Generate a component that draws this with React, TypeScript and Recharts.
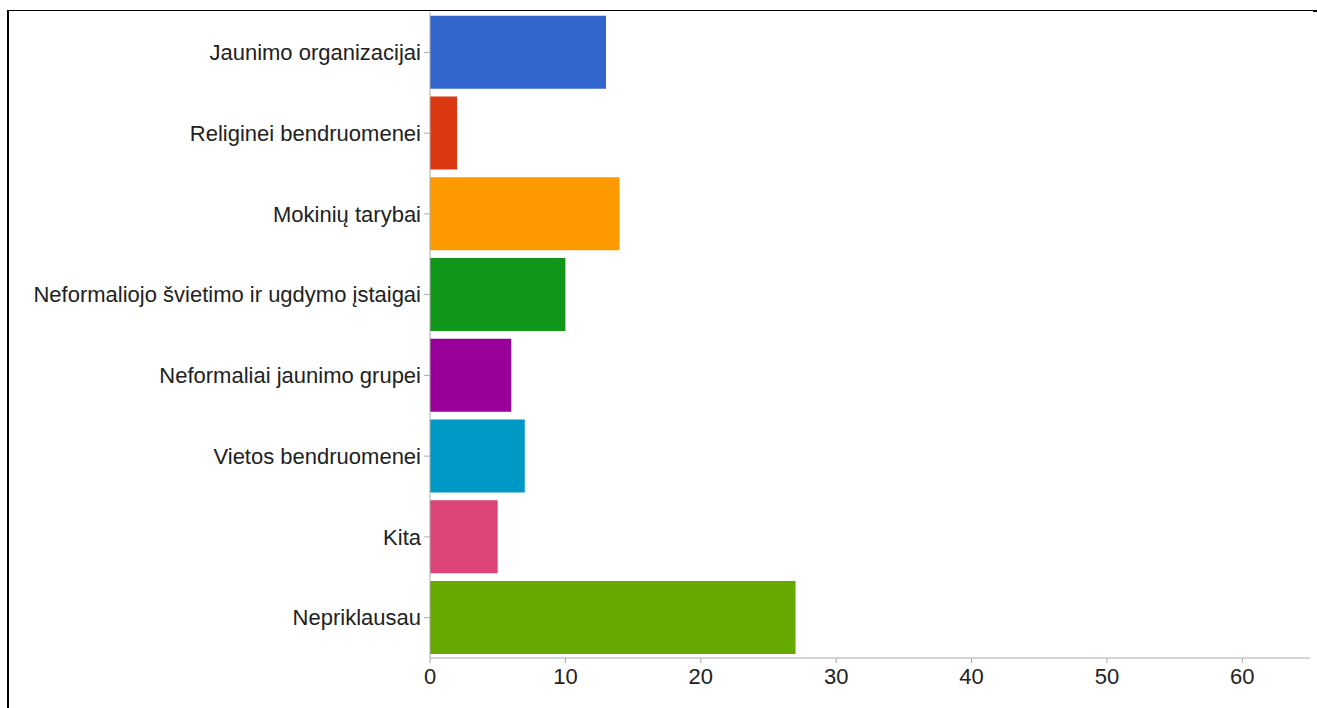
import React from 'react';
import { BarChart, Bar, XAxis, YAxis, Cell } from 'recharts';

const categories = [
  'Jaunimo organizacijai',
  'Religinei bendruomenei',
  'Mokinių tarybai',
  'Neformaliojo švietimo ir ugdymo įstaigai',
  'Neformaliai jaunimo grupei',
  'Vietos bendruomenei',
  'Kita',
  'Nepriklausau',
];
const counts = [13, 2, 14, 10, 6, 7, 5, 27];
const colors = ['#3366cc', '#dc3912', '#ff9900', '#109618', '#990099', '#0099c6', '#dd4477', '#66aa00'];
const xTicks = [0, 10, 20, 30, 40, 50, 60];

const data = categories.map((name, i) => ({ name, value: counts[i] }));

const font = { fontFamily: '"Liberation Sans", Arial, sans-serif', fontSize: 22, fill: '#222' };

const App = () => {
  return (
    <div style={{ position: 'absolute', left: 0, top: 0, width: 1317, height: 708, background: '#fff', overflow: 'hidden' }}>
      <div style={{ position: 'absolute', left: 7, top: 10, width: 1306, height: 698, borderTop: '1px solid #000', borderLeft: '2px solid #000' }} />
      <div style={{ position: 'absolute', left: 1313, top: 10, width: 4, height: 2, background: '#000' }} />
      <div style={{ position: 'absolute', left: 0, top: 0 }}>
        <BarChart
          width={1317}
          height={708}
          data={data}
          layout="vertical"
          margin={{ top: 12, right: 7, bottom: 0, left: 0 }}
          barCategoryGap="4.5%"
        >
          <XAxis
            type="number"
            domain={[0, 65]}
            ticks={xTicks}
            height={50}
            stroke="#aaa"
            tickSize={5}
            tickMargin={5}
            tick={font}
          />
          <YAxis
            type="category"
            dataKey="name"
            width={430}
            stroke="#aaa"
            tickSize={6}
            tickMargin={3}
            tick={font}
            interval={0}
          />
          <Bar dataKey="value" isAnimationActive={false}>
            {data.map((d, i) => (
              <Cell key={d.name} fill={colors[i]} />
            ))}
          </Bar>
        </BarChart>
      </div>
    </div>
  );
};

export default App;
